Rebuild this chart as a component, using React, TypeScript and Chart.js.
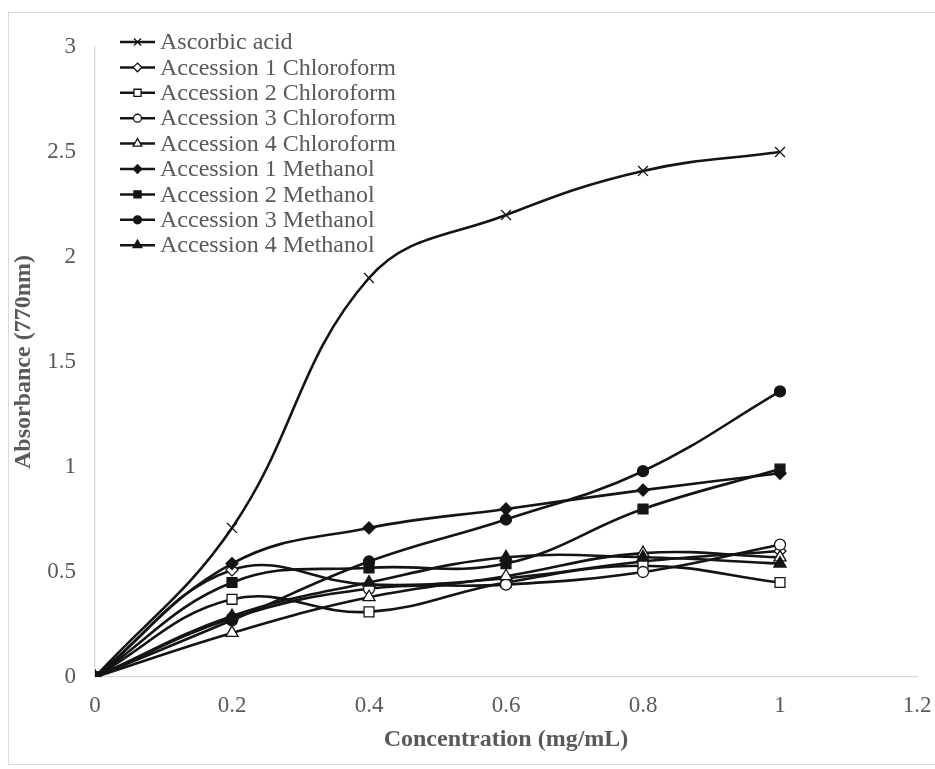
import React, { useEffect, useRef } from 'react';
import { Chart, registerables } from 'chart.js';

Chart.register(...registerables);

const concentrations = [0, 0.2, 0.4, 0.6, 0.8, 1];
const ascorbicAcid = [0, 0.71, 1.9, 2.2, 2.41, 2.5];
const acc1Chloroform = [0, 0.51, 0.44, 0.47, 0.55, 0.6];
const acc2Chloroform = [0, 0.37, 0.31, 0.45, 0.53, 0.45];
const acc3Chloroform = [0, 0.28, 0.42, 0.44, 0.5, 0.63];
const acc4Chloroform = [0, 0.21, 0.38, 0.48, 0.59, 0.57];
const acc1Methanol = [0, 0.54, 0.71, 0.8, 0.89, 0.97];
const acc2Methanol = [0, 0.45, 0.52, 0.54, 0.8, 0.99];
const acc3Methanol = [0, 0.27, 0.55, 0.75, 0.98, 1.36];
const acc4Methanol = [0, 0.29, 0.45, 0.57, 0.57, 0.54];

const seriesLabels = [
  'Ascorbic acid',
  'Accession 1 Chloroform',
  'Accession 2 Chloroform',
  'Accession 3 Chloroform',
  'Accession 4 Chloroform',
  'Accession 1 Methanol',
  'Accession 2 Methanol',
  'Accession 3 Methanol',
  'Accession 4 Methanol',
];
const seriesValues = [
  ascorbicAcid,
  acc1Chloroform,
  acc2Chloroform,
  acc3Chloroform,
  acc4Chloroform,
  acc1Methanol,
  acc2Methanol,
  acc3Methanol,
  acc4Methanol,
];
const markerShapes = ['crossRot', 'rectRot', 'rect', 'circle', 'triangle', 'rectRot', 'rect', 'circle', 'triangle'];
const markerFilled = [false, false, false, false, false, true, true, true, true];

const LINE = '#141414';
const GREY = '#595959';
const FONT = "'Liberation Serif', 'Times New Roman', serif";

const markerRadius = (shape: string) => {
  switch (shape) {
    case 'crossRot': return 7;
    case 'rectRot': return 6;
    case 'rect': return 7;
    case 'circle': return 5.5;
    case 'triangle': return 7;
    default: return 5;
  }
};

function drawMarker(ctx: CanvasRenderingContext2D, shape: string, x: number, y: number, r: number, filled: boolean) {
  ctx.save();
  ctx.beginPath();
  ctx.lineWidth = 1.3;
  ctx.strokeStyle = LINE;
  ctx.fillStyle = filled ? LINE : '#ffffff';
  if (shape === 'crossRot') {
    const d = r * Math.SQRT1_2;
    ctx.moveTo(x - d, y - d); ctx.lineTo(x + d, y + d);
    ctx.moveTo(x - d, y + d); ctx.lineTo(x + d, y - d);
    ctx.stroke();
  } else if (shape === 'rectRot') {
    ctx.moveTo(x, y - r); ctx.lineTo(x + r, y); ctx.lineTo(x, y + r); ctx.lineTo(x - r, y); ctx.closePath();
    ctx.fill(); ctx.stroke();
  } else if (shape === 'rect') {
    const s = r * Math.SQRT1_2;
    ctx.rect(x - s, y - s, 2 * s, 2 * s);
    ctx.fill(); ctx.stroke();
  } else if (shape === 'circle') {
    ctx.arc(x, y, r, 0, Math.PI * 2);
    ctx.fill(); ctx.stroke();
  } else if (shape === 'triangle') {
    const a = (Math.PI * 2) / 3;
    ctx.moveTo(x, y - r);
    ctx.lineTo(x + Math.sin(a) * r, y - Math.cos(a) * r);
    ctx.lineTo(x - Math.sin(a) * r, y - Math.cos(a) * r);
    ctx.closePath();
    ctx.fill(); ctx.stroke();
  }
  ctx.restore();
}

const legendPlugin = {
  id: 'insideLegend',
  afterDraw(chart: any) {
    const ctx: CanvasRenderingContext2D = chart.ctx;
    const area = chart.chartArea;
    const x0 = area.left + 25;
    const y0 = area.top - 5;
    const rowH = 25.4;
    ctx.save();
    ctx.font = `24px ${FONT}`;
    ctx.textBaseline = 'middle';
    ctx.textAlign = 'left';
    seriesLabels.forEach((label, i) => {
      const y = y0 + i * rowH;
      ctx.beginPath();
      ctx.strokeStyle = LINE;
      ctx.lineWidth = 2.5;
      ctx.moveTo(x0, y);
      ctx.lineTo(x0 + 35, y);
      ctx.stroke();
      const shape = markerShapes[i];
      drawMarker(ctx, shape, x0 + 17.5, y, markerRadius(shape) * 0.72, markerFilled[i]);
      ctx.fillStyle = GREY;
      ctx.fillText(label, x0 + 40, y + 1);
    });
    ctx.restore();
  },
};

export default function App() {
  const ref = useRef<HTMLCanvasElement | null>(null);

  useEffect(() => {
    document.documentElement.style.overflow = 'hidden';
    document.body.style.margin = '0';
    if (!ref.current) return;
    const datasets = seriesLabels.map((label, i) => {
      const shape = markerShapes[i];
      return {
        label,
        data: concentrations.map((c, j) => ({ x: c, y: seriesValues[i][j] })),
        borderColor: LINE,
        borderWidth: 2.6,
        tension: 0.4,
        pointStyle: shape,
        pointRadius: markerRadius(shape),
        pointBorderWidth: 1.3,
        pointBorderColor: LINE,
        pointBackgroundColor: markerFilled[i] ? LINE : '#ffffff',
        order: seriesLabels.length - i,
      };
    });

    const chart = new Chart(ref.current, {
      type: 'line',
      data: { datasets } as any,
      options: {
        animation: false,
        responsive: false,
        devicePixelRatio: 1,
        layout: { padding: { top: 34, right: 18, left: 0, bottom: 0 } },
        plugins: {
          legend: { display: false },
          tooltip: { enabled: false },
        },
        scales: {
          x: {
            type: 'linear',
            min: 0,
            max: 1.2,
            grid: { display: false, drawTicks: false },
            border: { display: true, color: '#d9d9d9', width: 1.3 },
            ticks: {
              stepSize: 0.2,
              padding: 15,
              color: GREY,
              font: { family: FONT, size: 23 },
              maxRotation: 0,
              callback: (v: any) => String(Number(Number(v).toFixed(1))),
            },
            title: {
              display: true,
              text: 'Concentration (mg/mL)',
              color: GREY,
              font: { family: FONT, size: 24, weight: 'bold' },
              padding: { top: 0, bottom: 10 },
            },
            afterFit: (scale: any) => {
              scale.height = 87;
              scale.paddingRight = 0;
              scale.paddingLeft = 0;
            },
          },
          y: {
            type: 'linear',
            min: 0,
            max: 3,
            grid: { display: false, drawTicks: false },
            border: { display: true, color: '#d9d9d9', width: 1.3 },
            ticks: {
              stepSize: 0.5,
              padding: 19,
              color: GREY,
              font: { family: FONT, size: 23 },
              callback: (v: any) => String(Number(Number(v).toFixed(1))),
            },
            title: {
              display: true,
              text: 'Absorbance (770nm)',
              color: GREY,
              font: { family: FONT, size: 24, weight: 'bold' },
              padding: { top: 0, bottom: 0 },
            },
            afterFit: (scale: any) => {
              scale.width = 86;
              scale.paddingTop = 0;
              scale.paddingBottom = 0;
            },
          },
        },
      } as any,
      plugins: [legendPlugin],
    });
    return () => chart.destroy();
  }, []);

  return (
    <div
      style={{
        position: 'absolute',
        left: 8,
        top: 12,
        width: 927,
        height: 753,
        border: '1px solid #d9d9d9',
        borderRight: 'none',
        boxSizing: 'border-box',
        background: '#ffffff',
      }}
    >
      <canvas ref={ref} width={926} height={751} style={{ display: 'block' }} />
    </div>
  );
}
